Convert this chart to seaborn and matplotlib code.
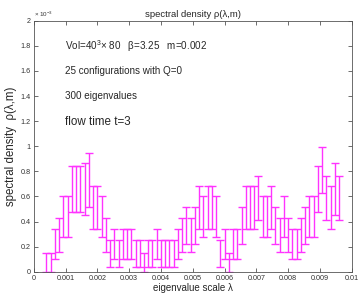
import numpy as np
import pandas as pd
import seaborn as sns
import matplotlib.pyplot as plt
from matplotlib.ticker import FormatStrFormatter, MultipleLocator

# eigenvalue bin centres, in units of 1e-3
lam = [0.400, 0.533, 0.667, 0.800, 0.933, 1.067, 1.200, 1.333, 1.467, 1.600,
       1.733, 1.867, 2.000, 2.133, 2.267, 2.400, 2.533, 2.667, 2.800, 2.933,
       3.067, 3.200, 3.333, 3.467, 3.600, 3.733, 3.867, 4.000, 4.133, 4.267,
       4.400, 4.533, 4.667, 4.800, 4.933, 5.067, 5.200, 5.333, 5.467, 5.600,
       5.733, 5.867, 6.000, 6.133, 6.267, 6.400, 6.533, 6.667, 6.800, 6.933,
       7.067, 7.200, 7.333, 7.467, 7.600, 7.733, 7.867, 8.000, 8.133, 8.267,
       8.400, 8.533, 8.667, 8.800, 8.933, 9.067, 9.200, 9.333, 9.467, 9.600]

# spectral density and its error, in units of 1e-3
rho = [0.073, 0.073, 0.222, 0.292, 0.440, 0.440, 0.660, 0.660, 0.660, 0.658,
       0.735, 0.514, 0.514, 0.440, 0.292, 0.145, 0.222, 0.145, 0.222, 0.222,
       0.222, 0.145, 0.145, 0.073, 0.145, 0.145, 0.222, 0.145, 0.145, 0.145,
       0.145, 0.222, 0.292, 0.368, 0.292, 0.368, 0.514, 0.440, 0.514, 0.514,
       0.440, 0.145, 0.222, 0.073, 0.222, 0.222, 0.368, 0.514, 0.514, 0.514,
       0.590, 0.440, 0.440, 0.514, 0.368, 0.292, 0.440, 0.292, 0.222, 0.222,
       0.292, 0.368, 0.440, 0.440, 0.660, 0.810, 0.590, 0.514, 0.658, 0.590]

drho = [0.073, 0.073, 0.122, 0.138, 0.160, 0.160, 0.180, 0.180, 0.180, 0.208,
        0.215, 0.170, 0.170, 0.160, 0.138, 0.105, 0.122, 0.105, 0.122, 0.122,
        0.122, 0.105, 0.105, 0.073, 0.105, 0.105, 0.122, 0.105, 0.105, 0.105,
        0.105, 0.122, 0.138, 0.148, 0.138, 0.148, 0.170, 0.160, 0.170, 0.170,
        0.160, 0.105, 0.122, 0.073, 0.122, 0.122, 0.148, 0.170, 0.170, 0.170,
        0.174, 0.160, 0.160, 0.170, 0.148, 0.138, 0.160, 0.138, 0.122, 0.122,
        0.138, 0.148, 0.160, 0.160, 0.180, 0.186, 0.174, 0.170, 0.208, 0.174]

notes = ["Vol=40$^3$× 80   β=3.25   m=0.002",
         "25 configurations with Q=0",
         "300 eigenvalues"]

df = pd.DataFrame({"lam": np.array(lam) * 1e-3, "rho": rho, "err": drho})

sns.set_theme(style="ticks")
plt.rcParams["font.family"] = ["Liberation Sans", "DejaVu Sans"]
plt.rcParams["mathtext.fontset"] = "custom"
plt.rcParams["mathtext.rm"] = "Liberation Sans"

fig = plt.figure(figsize=(3.63, 3.0), dpi=100)
ax = fig.add_axes([0.093, 0.094, 0.876, 0.837])

pink = "#ff33ff"
eb = ax.errorbar(df["lam"], df["rho"], yerr=df["err"], fmt="none",
                 ecolor=pink, elinewidth=1.0, capsize=3.2, capthick=1.0)
for cap in eb[1]:
    cap.set_color(pink)
    cap.set_markeredgecolor(pink)

ax.set_xlim(0, 0.01)
ax.set_ylim(0, 2)
ax.xaxis.set_major_locator(MultipleLocator(0.001))
ax.yaxis.set_major_locator(MultipleLocator(0.2))
ax.xaxis.set_major_formatter(FormatStrFormatter("%g"))
ax.yaxis.set_major_formatter(FormatStrFormatter("%g"))
ax.tick_params(direction="in", length=3, width=0.5, labelsize=5.2,
               top=True, right=True, colors="#333333", pad=2)
for s in ax.spines.values():
    s.set_linewidth(0.6)
    s.set_color("#555555")

ax.set_title("spectral density ρ(λ,m)", fontsize=6.8, pad=3)
ax.set_xlabel("eigenvalue scale λ", fontsize=7, labelpad=1)
ax.set_ylabel("spectral density  ρ(λ,m)", fontsize=8.3, labelpad=3)
ax.text(0.0, 1.008, r"× 10$^{-3}$", transform=ax.transAxes,
        fontsize=4.5, ha="left", va="bottom", color="#333333")

for txt, yv in zip(notes, [1.80, 1.597, 1.40]):
    ax.text(0.00099, yv, txt, fontsize=7.1, va="center", ha="left")
ax.text(0.00099, 1.19, "flow time t=3", fontsize=8.4, va="center", ha="left")

fig.savefig("out.png", dpi=100)
